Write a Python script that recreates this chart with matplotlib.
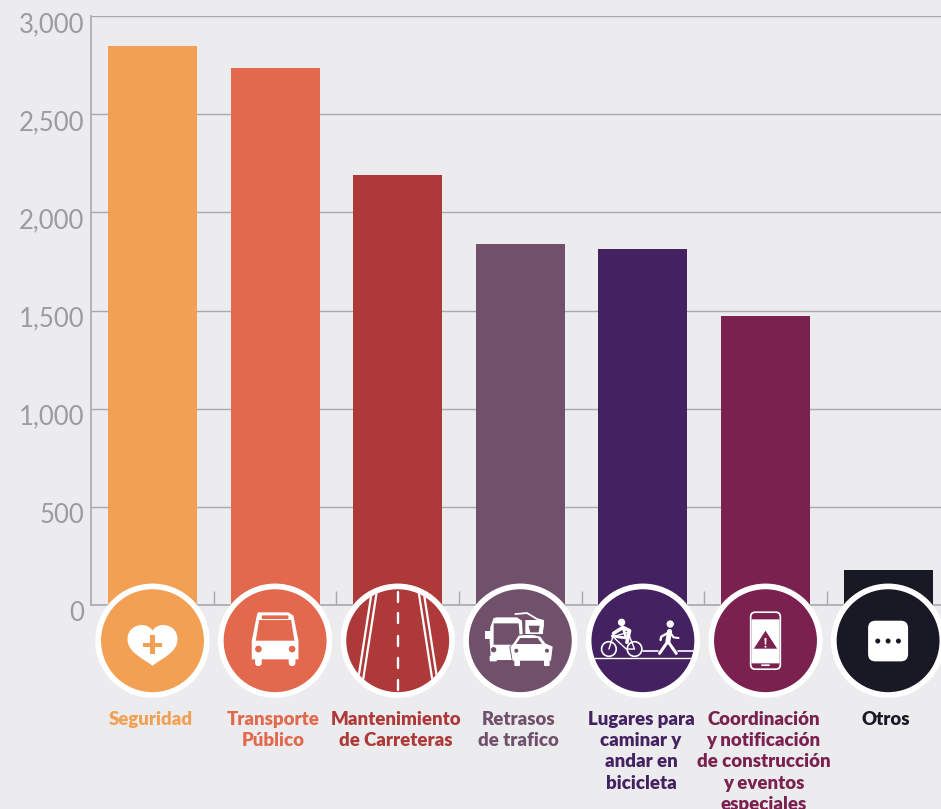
import matplotlib
matplotlib.use("Agg")
import matplotlib.pyplot as plt
from matplotlib.patches import Circle, Polygon, FancyBboxPatch, PathPatch
from matplotlib.path import Path
from matplotlib.transforms import ScaledTranslation

categorias = [
    "Seguridad",
    "Transporte\nPúblico",
    "Mantenimiento\nde Carreteras",
    "Retrasos\nde trafico",
    "Lugares para\ncaminar y\nandar en\nbicicleta",
    "Coordinación\ny notificación\nde construcción\ny eventos\nespeciales",
    "Otros",
]
valores = [2847, 2735, 2190, 1839, 1813, 1472, 178]
colores = ["#F2A053", "#E2694D", "#AE3939", "#71506C", "#442161", "#7A214F", "#191825"]
y_ticks = [0, 500, 1000, 1500, 2000, 2500, 3000]
y_labels = ["0", "500", "1,000", "1,500", "2,000", "2,500", "3,000"]

FONDO = "#ECEBEE"
GRIS = "#A9AAAC"
W, H = 941, 809
IZQ = 91.2

fig = plt.figure(figsize=(W / 100, H / 100), dpi=100, facecolor=FONDO)
ax = fig.add_axes([IZQ / W, (H - 605) / H, (W - IZQ) / W, 589 / H])
ax.set_facecolor(FONDO)

ax.bar(range(len(valores)), valores, width=0.726, color=colores, zorder=3)
ax.set_xlim(-0.5, (W - IZQ) / 122.6 - 0.5)
ax.set_ylim(0, 3000)

ax.set_yticks(y_ticks)
ax.set_yticklabels(y_labels, family="Lato", fontsize=18.5, color="#9B9C9E")
ax.set_xticks([i + 0.5 for i in range(len(valores) - 1)])
ax.set_xticklabels([])
ax.tick_params(axis="x", direction="in", length=10, width=1, color=GRIS)
ax.tick_params(axis="y", length=0, pad=5)
for lab in ax.get_yticklabels():
    lab.set_transform(lab.get_transform() + ScaledTranslation(0, -6 / 100, fig.dpi_scale_trans))

ax.grid(axis="y", color=GRIS, lw=1, zorder=0)
ax.set_axisbelow(True)
for s in ["top", "right"]:
    ax.spines[s].set_visible(False)
for s in ["left", "bottom"]:
    ax.spines[s].set_color(GRIS)
    ax.spines[s].set_linewidth(1.2)

# capa en pixeles para los iconos
capa = fig.add_axes([0, 0, 1, 1], zorder=5)
capa.set_xlim(0, W)
capa.set_ylim(H, 0)
capa.axis("off")
capa.patch.set_alpha(0)


def poly(cx, cy, pts, color="white", z=7):
    capa.add_patch(Polygon([(cx + x / 3, cy + y / 3) for x, y in pts], closed=True, fc=color, ec="none", zorder=z))


def disco(cx, cy, x, y, r, color="white", z=7):
    capa.add_patch(Circle((cx + x / 3, cy + y / 3), r / 3, fc=color, ec="none", zorder=z))


def linea(cx, cy, pts, lw=1.5, color="white", z=7, clip=None):
    l, = capa.plot([cx + x / 3 for x, y in pts], [cy + y / 3 for x, y in pts], color=color, lw=lw,
                   solid_capstyle="round", solid_joinstyle="round", zorder=z)
    if clip is not None:
        l.set_clip_path(clip)
    return l


def caja(cx, cy, x0, y0, x1, y1, r, color="white", z=7):
    capa.add_patch(FancyBboxPatch((cx + (x0 + r) / 3, cy + (y0 + r) / 3), (x1 - x0 - 2 * r) / 3, (y1 - y0 - 2 * r) / 3,
                                  boxstyle=f"round,pad={r / 3},rounding_size={r / 3}", fc=color, ec="none", zorder=z))


def icono_corazon(cx, cy, c):
    verts = [(0, 75), (-30, 52), (-75, 35), (-75, -5), (-75, -35), (-50, -47), (-32, -47),
             (-15, -47), (-5, -38), (0, -30), (5, -38), (15, -47), (32, -47), (50, -47), (75, -35),
             (75, -5), (75, 35), (30, 52), (0, 75)]
    codes = [Path.MOVETO] + [Path.CURVE4] * 18
    p = Path([(cx + x / 3, cy + y / 3) for x, y in verts], codes)
    capa.add_patch(PathPatch(p, fc="white", ec="none", zorder=7))
    poly(cx, cy, [(-7, -16), (7, -16), (7, 6), (28, 6), (28, 19), (7, 19), (7, 40), (-7, 40), (-7, 19),
                  (-28, 19), (-28, 6), (-7, 6)], c, 8)


def icono_bus(cx, cy, c):
    poly(cx, cy, [(-52, -85), (-40, -85), (40, -85), (55, -75), (70, 0), (70, 56), (-70, 56), (-70, 0), (-55, -75)])
    caja(cx, cy, -60, 40, -40, 76, 9)
    caja(cx, cy, 41, 40, 61, 76, 9)
    poly(cx, cy, [(-48, -62), (48, -62), (58, 0), (-58, 0)], c, 8)
    caja(cx, cy, -40, -76, 40, -65, 3, c, 8)
    disco(cx, cy, -50, 25, 10, c, 8)
    disco(cx, cy, 51, 25, 10, c, 8)


def icono_via(cx, cy, c, clip):
    for signo in (-1, 1):
        linea(cx, cy, [(signo * 60, -165), (signo * 105, 125)], lw=1.6, clip=clip)
        linea(cx, cy, [(signo * 75, -165), (signo * 120, 125)], lw=1.6, clip=clip)
    for y0 in (-147, -82, -15, 51, 118):
        linea(cx, cy, [(0, y0), (0, y0 + 30)], lw=1.7, clip=clip)


def icono_trafico(cx, cy, c):
    # coche de atras
    linea(cx, cy, [(-15, -80), (20, -83), (50, -65), (68, -60), (68, -45), (65, -30), (62, -25)], lw=1.3)
    poly(cx, cy, [(15, -62), (70, -62), (68, -20), (15, -20)])
    poly(cx, cy, [(25, -45), (58, -45), (55, -25), (30, -25)], c, 8)
    # furgoneta
    poly(cx, cy, [(-80, -68), (-70, -70), (-10, -70), (5, -60), (10, 30), (-20, 58), (-88, 58), (-92, 0), (-90, -40)])
    poly(cx, cy, [(-107, -28), (-92, -28), (-92, -5), (-107, -5)])
    poly(cx, cy, [(-80, -52), (-5, -52), (0, 12), (-80, 12)], c, 8)
    disco(cx, cy, -80, 27, 8, c, 8)
    caja(cx, cy, -92, 45, -70, 62, 3)
    # coche de delante
    caja(cx, cy, -20, -10, 85, 20, 8, c, 9)
    poly(cx, cy, [(-8, -18), (10, -20), (40, -20), (63, -15), (78, 8), (98, 18), (90, 62), (-25, 62), (-33, 18), (-23, 8)], c, 9)
    poly(cx, cy, [(-5, -15), (10, -17), (40, -17), (60, -12), (75, 8), (97, 18), (92, 60), (-23, 60), (-30, 18), (-20, 8)], "white", 10)
    poly(cx, cy, [(0, -8), (52, -8), (65, 10), (-13, 10)], c, 11)
    disco(cx, cy, -12, 30, 6, c, 11)
    disco(cx, cy, 80, 30, 6, c, 11)
    caja(cx, cy, -18, 58, -1, 76, 3, "white", 10)
    caja(cx, cy, 71, 58, 88, 76, 3, "white", 10)


def icono_bici(cx, cy, c, clip):
    linea(cx, cy, [(-165, 52), (165, 52)], lw=1.0, clip=clip)
    linea(cx, cy, [(0, 31), (44, 31)], lw=1.2)
    linea(cx, cy, [(105, 31), (165, 31)], lw=1.2, clip=clip)
    # ciclista
    disco(cx, cy, -64, -55, 11)
    for x in (-102, -25):
        capa.add_patch(Circle((cx + x / 3, cy + 25 / 3), 22 / 3, fc="none", ec="white", lw=1.2, zorder=7))
    linea(cx, cy, [(-102, 25), (-90, -12), (-50, 25), (-25, 25), (-45, -25), (-90, -12)], lw=1.0)
    linea(cx, cy, [(-88, -22), (-60, -40), (-40, -30), (-48, 5)], lw=2.6)
    linea(cx, cy, [(-60, -40), (-50, -8), (-92, -14)], lw=2.0)
    # peaton
    disco(cx, cy, 82, -50, 11)
    linea(cx, cy, [(80, -28), (75, 2)], lw=3.6)
    linea(cx, cy, [(75, 2), (50, 38)], lw=2.2)
    linea(cx, cy, [(75, 2), (100, 38)], lw=2.2)
    linea(cx, cy, [(78, -25), (55, -12), (53, -2)], lw=1.7)
    linea(cx, cy, [(82, -25), (92, -10), (107, -8)], lw=1.5)


def icono_movil(cx, cy, c):
    caja(cx, cy, -47, -88, 47, 88, 16)
    caja(cx, cy, -42, -83, 42, 83, 12, c, 8)
    caja(cx, cy, -42, -64, 42, 68, 3, "white", 9)
    poly(cx, cy, [(0, -30), (35, 24), (-35, 24)], c, 10)
    poly(cx, cy, [(-3, -8), (3, -8), (2, 12), (-2, 12)], "white", 11)
    disco(cx, cy, 0, 18, 3, "white", 11)
    caja(cx, cy, -13, 71, 13, 76, 2, "white", 9)


def icono_otros(cx, cy, c):
    caja(cx, cy, -60, -60, 60, 62, 22)
    for x in (-31, 0, 31):
        disco(cx, cy, x, 1, 7.5, c, 8)


iconos = [icono_corazon, icono_bus, icono_via, icono_trafico, icono_bici, icono_movil, icono_otros]

for i, (txt, col, ico) in enumerate(zip(categorias, colores, iconos)):
    cx = ax.transData.transform((i, 0))[0]
    cy = 640.7
    capa.add_patch(Circle((cx, cy), 54.3, fc=col, ec="white", lw=4.1, zorder=6))
    clip = Circle((cx, cy), 51.5, transform=capa.transData)
    if ico in (icono_via, icono_bici):
        ico(cx, cy, col, clip)
    else:
        ico(cx, cy, col)
    capa.text(cx - 2, 711, txt, ha="center", va="top", color=col, family="Lato", fontweight="heavy",
              fontsize=13.4, linespacing=1.3, clip_on=False)

fig.savefig("out.png", dpi=100, facecolor=FONDO)
